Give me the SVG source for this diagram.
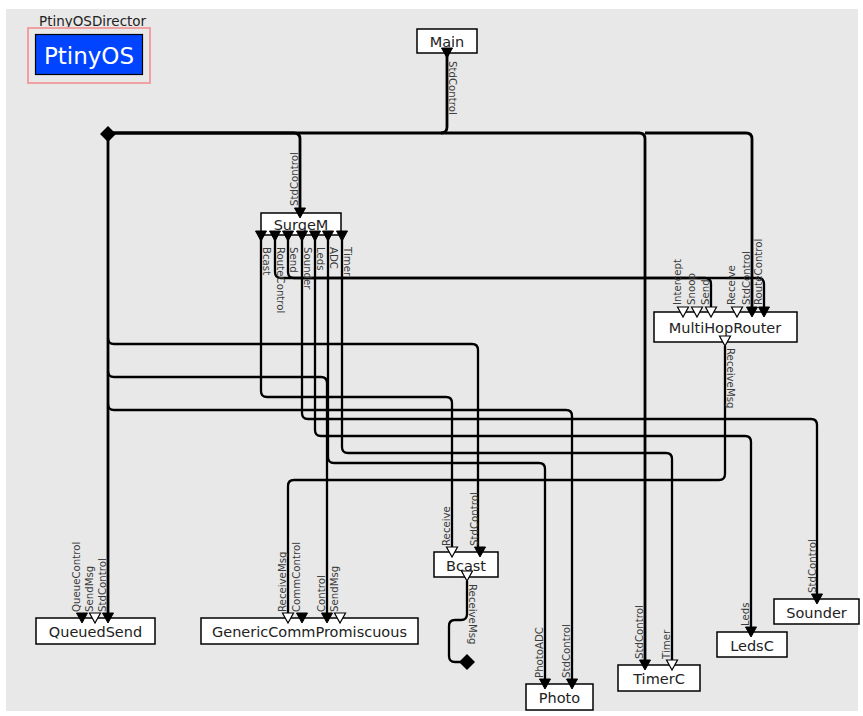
<svg xmlns="http://www.w3.org/2000/svg" xmlns:xlink="http://www.w3.org/1999/xlink" width="863" height="716" viewBox="0 0 863 716">
<style>
.bg{fill:#e8e8e8}
.box{fill:#fff;stroke:#000;stroke-width:1.5}
.name{font-family:"DejaVu Sans","Liberation Sans",sans-serif;font-size:14.5px;fill:#222;text-anchor:middle}
.lbl{font-family:"DejaVu Sans","Liberation Sans",sans-serif;font-size:10.2px;fill:#3a3a3a}
.wire{fill:none;stroke:#000;stroke-width:2.3}
.bus{stroke-width:2.8}
.pf{fill:#000;stroke:#000;stroke-width:1}
.ph{fill:#fff;stroke:#000;stroke-width:1.2}
</style>
<defs>
<path id="tri" d="M-5.5,0 L5.5,0 L0,10 Z"/>
</defs>
<rect class="bg" x="6" y="9" width="852" height="702"/>

<g id="director">
<text x="39" y="26" font-family="DejaVu Sans, Liberation Sans, sans-serif" font-size="13.5" fill="#222">PtinyOSDirector</text>
<rect x="28" y="28" width="122" height="55" fill="none" stroke="#f0a0a0" stroke-width="2"/>
<rect x="35.5" y="34.5" width="107" height="40" fill="#0044ff" stroke="#000" stroke-width="1.2"/>
<text x="89" y="64" font-family="DejaVu Sans, Liberation Sans, sans-serif" font-size="23" fill="#fff" text-anchor="middle">PtinyOS</text>
</g>

<g id="connectors">
<path class="wire bus" d="M447,52 V127 Q447,133 441,133 H108"/>
<path class="wire bus" d="M441,133 H639 Q645,133 645,139 V660"/>
<path class="wire bus" d="M645,133 H746 Q752,133 752,139 V307"/>
<path class="wire bus" d="M108,133 H294 Q300,133 300,139 V208"/>
<path class="wire bus" d="M108,133 V613"/>
<path class="wire" d="M108,338 Q108,344 114,344 H472 Q478,344 478,350 V547"/>
<path class="wire" d="M108,371 Q108,377 114,377 H321 Q327,377 327,383 V613"/>
<path class="wire" d="M108,404 Q108,410 114,410 H566 Q572,410 572,416 V679"/>
<path class="wire" d="M261,236 V391 Q261,397 267,397 H446 Q452,397 452,403 V547"/>
<path class="wire" d="M275,236 V272 Q275,278 281,278 H758 Q764,278 764,284 V307"/>
<path class="wire" d="M288,236 V272 Q288,278 294,278 H705 Q711,278 711,284 V307"/>
<path class="wire" d="M302,236 V413 Q302,419 308,419 H811 Q817,419 817,425 V594"/>
<path class="wire" d="M315,236 V430 Q315,436 321,436 H745 Q751,436 751,442 V627"/>
<path class="wire" d="M328,236 V457 Q328,463 334,463 H539 Q545,463 545,469 V679"/>
<path class="wire" d="M342,236 V447 Q342,453 348,453 H666 Q672,453 672,459 V660"/>
<path class="wire" d="M725,346 V474 Q725,480 719,480 H294 Q288,480 288,486 V613"/>
<path class="wire" d="M467,581 V614 Q467,620 461,620 H455 Q449,620 449,626 V656 Q449,662 455,662 H462"/>
<path d="M108,126 L116,134 L108,142 L100,134 Z" fill="#000"/>
<path d="M467,654 L475,662 L467,670 L459,662 Z" fill="#000"/>
<text class="lbl" transform="translate(449,61) rotate(90)">StdControl</text>
<text class="lbl" transform="translate(298,206) rotate(-90)">StdControl</text>
<text class="lbl" transform="translate(263,247) rotate(90)">Bcast</text>
<text class="lbl" transform="translate(277,247) rotate(90)">RouteControl</text>
<text class="lbl" transform="translate(290,247) rotate(90)">Send</text>
<text class="lbl" transform="translate(304,247) rotate(90)">Sounder</text>
<text class="lbl" transform="translate(317,247) rotate(90)">Leds</text>
<text class="lbl" transform="translate(330,247) rotate(90)">ADC</text>
<text class="lbl" transform="translate(344,247) rotate(90)">Timer</text>
<text class="lbl" transform="translate(681,305) rotate(-90)">Intercept</text>
<text class="lbl" transform="translate(695,305) rotate(-90)">Snoop</text>
<text class="lbl" transform="translate(709,305) rotate(-90)">Send</text>
<text class="lbl" transform="translate(735,305) rotate(-90)">Receive</text>
<text class="lbl" transform="translate(750,305) rotate(-90)">StdControl</text>
<text class="lbl" transform="translate(762,305) rotate(-90)">RouteControl</text>
<text class="lbl" transform="translate(727,348) rotate(90)">ReceiveMsg</text>
<text class="lbl" transform="translate(80,612) rotate(-90)">QueueControl</text>
<text class="lbl" transform="translate(93,612) rotate(-90)">SendMsg</text>
<text class="lbl" transform="translate(106,612) rotate(-90)">StdControl</text>
<text class="lbl" transform="translate(286,612) rotate(-90)">ReceiveMsg</text>
<text class="lbl" transform="translate(300,612) rotate(-90)">CommControl</text>
<text class="lbl" transform="translate(325,612) rotate(-90)">Control</text>
<text class="lbl" transform="translate(338,612) rotate(-90)">SendMsg</text>
<text class="lbl" transform="translate(450,546) rotate(-90)">Receive</text>
<text class="lbl" transform="translate(478,546) rotate(-90)">StdControl</text>
<text class="lbl" transform="translate(469,584) rotate(90)">ReceiveMsg</text>
<text class="lbl" transform="translate(543,678) rotate(-90)">PhotoADC</text>
<text class="lbl" transform="translate(570,678) rotate(-90)">StdControl</text>
<text class="lbl" transform="translate(643,659) rotate(-90)">StdControl</text>
<text class="lbl" transform="translate(670,659) rotate(-90)">Timer</text>
<text class="lbl" transform="translate(749,626) rotate(-90)">Leds</text>
<text class="lbl" transform="translate(816,593) rotate(-90)">StdControl</text>
</g>

<g id="Main">
<rect class="box" x="417" y="29" width="60" height="24"/>
<text class="name" x="447" y="47">Main</text>
<use xlink:href="#tri" class="pf" x="447" y="48"/>
</g>

<g id="SurgeM">
<rect class="box" x="261" y="213" width="80" height="22"/>
<text class="name" x="301" y="230">SurgeM</text>
<use xlink:href="#tri" class="pf" x="300" y="208"/>
<use xlink:href="#tri" class="pf" x="261" y="231"/>
<use xlink:href="#tri" class="pf" x="275" y="231"/>
<use xlink:href="#tri" class="pf" x="288" y="231"/>
<use xlink:href="#tri" class="pf" x="302" y="231"/>
<use xlink:href="#tri" class="pf" x="315" y="231"/>
<use xlink:href="#tri" class="pf" x="328" y="231"/>
<use xlink:href="#tri" class="pf" x="342" y="231"/>
</g>

<g id="MultiHopRouter">
<rect class="box" x="654" y="312" width="143" height="30"/>
<text class="name" x="725" y="333">MultiHopRouter</text>
<use xlink:href="#tri" class="ph" x="683" y="307"/>
<use xlink:href="#tri" class="ph" x="697" y="307"/>
<use xlink:href="#tri" class="ph" x="711" y="307"/>
<use xlink:href="#tri" class="ph" x="737" y="307"/>
<use xlink:href="#tri" class="pf" x="752" y="307"/>
<use xlink:href="#tri" class="pf" x="764" y="307"/>
<use xlink:href="#tri" class="ph" x="725" y="336"/>
</g>

<g id="QueuedSend">
<rect class="box" x="36" y="618" width="119" height="26"/>
<text class="name" x="95.5" y="637">QueuedSend</text>
<use xlink:href="#tri" class="pf" x="82" y="613"/>
<use xlink:href="#tri" class="ph" x="95" y="613"/>
<use xlink:href="#tri" class="pf" x="108" y="613"/>
</g>

<g id="GenericCommPromiscuous">
<rect class="box" x="201" y="618" width="217" height="26"/>
<text class="name" x="309.5" y="637">GenericCommPromiscuous</text>
<use xlink:href="#tri" class="ph" x="288" y="613"/>
<use xlink:href="#tri" class="pf" x="302" y="613"/>
<use xlink:href="#tri" class="pf" x="327" y="613"/>
<use xlink:href="#tri" class="ph" x="340" y="613"/>
</g>

<g id="Bcast">
<rect class="box" x="434" y="552" width="64" height="25"/>
<text class="name" x="466" y="571">Bcast</text>
<use xlink:href="#tri" class="ph" x="452" y="547"/>
<use xlink:href="#tri" class="pf" x="480" y="547"/>
<use xlink:href="#tri" class="ph" x="467" y="571"/>
</g>

<g id="Photo">
<rect class="box" x="526" y="684" width="67" height="26"/>
<text class="name" x="559.5" y="703">Photo</text>
<use xlink:href="#tri" class="pf" x="545" y="679"/>
<use xlink:href="#tri" class="pf" x="572" y="679"/>
</g>

<g id="TimerC">
<rect class="box" x="618" y="665" width="82" height="26"/>
<text class="name" x="659" y="684">TimerC</text>
<use xlink:href="#tri" class="pf" x="645" y="660"/>
<use xlink:href="#tri" class="ph" x="672" y="660"/>
</g>

<g id="LedsC">
<rect class="box" x="717" y="632" width="70" height="25"/>
<text class="name" x="752" y="651">LedsC</text>
<use xlink:href="#tri" class="pf" x="751" y="627"/>
</g>

<g id="Sounder">
<rect class="box" x="774" y="599" width="85" height="25"/>
<text class="name" x="816.5" y="618">Sounder</text>
<use xlink:href="#tri" class="pf" x="817" y="594"/>
</g>
</svg>
